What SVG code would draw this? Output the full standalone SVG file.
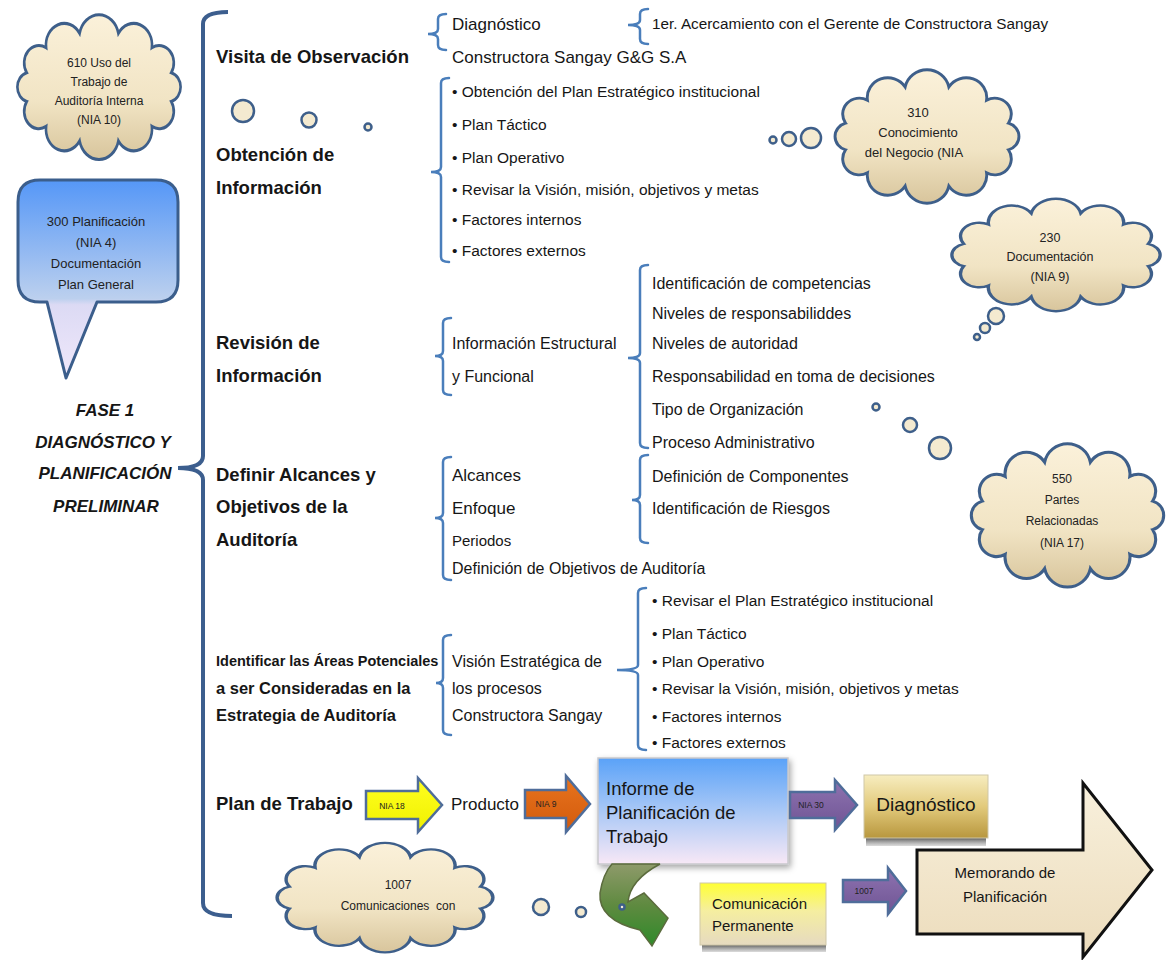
<svg xmlns="http://www.w3.org/2000/svg" width="1172" height="960" viewBox="0 0 1172 960">
<style>
text{font-family:"Liberation Sans",Arial,sans-serif;fill:#161616}
.h{font-size:18.5px;font-weight:bold}
.t{font-size:16px}
.s{font-size:15.5px}
.br{fill:none;stroke:#4a7ebb;stroke-width:2.5;stroke-linecap:round}
.bub{fill:#f4ead0;stroke:#3e5f8a;stroke-width:2.5}
.cloud{fill:url(#gCloud);stroke:#3e5f8a;stroke-width:3;vector-effect:non-scaling-stroke}
.ct{font-size:12px;text-anchor:middle;fill:#222}
.arr{stroke:#4f6d9a;stroke-width:2.5;stroke-linejoin:miter}
.al{font-size:8.5px;text-anchor:middle;fill:#222}
</style>
<defs>
<linearGradient id="gCloud" x1="0" y1="0" x2="0" y2="1"><stop offset="0" stop-color="#fbf1da"/><stop offset="0.6" stop-color="#f1e4c4"/><stop offset="1" stop-color="#d8c59c"/></linearGradient>
<linearGradient id="gCall" x1="0" y1="0" x2="0" y2="1"><stop offset="0" stop-color="#5597f7"/><stop offset="0.6" stop-color="#bcd0ee"/><stop offset="0.63" stop-color="#dcdaf4"/><stop offset="1" stop-color="#f0e8fb"/></linearGradient>
<linearGradient id="gInf" x1="0" y1="0" x2="0" y2="1"><stop offset="0" stop-color="#5aa2f8"/><stop offset="0.5" stop-color="#a9c8f6"/><stop offset="1" stop-color="#f8e8f6"/></linearGradient>
<linearGradient id="gDia" x1="0" y1="0" x2="0" y2="1"><stop offset="0" stop-color="#f7edc0"/><stop offset="0.5" stop-color="#e2ca7c"/><stop offset="1" stop-color="#b8973e"/></linearGradient>
<linearGradient id="gCom" x1="0" y1="0" x2="0" y2="1"><stop offset="0" stop-color="#ffff33"/><stop offset="0.45" stop-color="#f5eea0"/><stop offset="1" stop-color="#e6dac0"/></linearGradient>
<linearGradient id="gShd" x1="0" y1="0" x2="0" y2="1"><stop offset="0" stop-color="#333"/><stop offset="1" stop-color="#888" stop-opacity="0.3"/></linearGradient>
<linearGradient id="gYel" x1="0" y1="0" x2="0" y2="1"><stop offset="0" stop-color="#ffff20"/><stop offset="1" stop-color="#f0f000"/></linearGradient>
<linearGradient id="gOr" x1="0" y1="0" x2="0" y2="1"><stop offset="0" stop-color="#e8741e"/><stop offset="1" stop-color="#d25a0c"/></linearGradient>
<linearGradient id="gPur" x1="0" y1="0" x2="0" y2="1"><stop offset="0" stop-color="#8e73b0"/><stop offset="1" stop-color="#6f5494"/></linearGradient>
<linearGradient id="gMem" x1="0" y1="0" x2="0" y2="1"><stop offset="0" stop-color="#f8f0dc"/><stop offset="1" stop-color="#ecdcbc"/></linearGradient>
<linearGradient id="gGrn" x1="0" y1="0" x2="0" y2="1"><stop offset="0" stop-color="#8e9a6a"/><stop offset="0.5" stop-color="#5f8a40"/><stop offset="1" stop-color="#2f8a2a"/></linearGradient>
<filter id="sh" x="-10%" y="-10%" width="130%" height="140%"><feDropShadow dx="2" dy="3" stdDeviation="3" flood-color="#000" flood-opacity="0.35"/></filter>
<path id="cl" d="M16.9,56 A16.9,16.9 0 0 1 39.2,31.8 A21,21 0 0 1 77.7,17.8 A22.8,22.8 0 0 1 122.3,17.8 A21,21 0 0 1 160.8,31.8 A16.9,16.9 0 0 1 183.1,56 A14.5,14.5 0 0 1 183.1,84 A16.9,16.9 0 0 1 160.8,108.2 A21,21 0 0 1 122.3,122.2 A22.8,22.8 0 0 1 77.7,122.2 A21,21 0 0 1 39.2,108.2 A16.9,16.9 0 0 1 16.9,84 A14.5,14.5 0 0 1 16.9,56 Z"/>
</defs>

<g id="connectors">
<path d="M228,12 Q203,12 203,24 L203,456 Q203,468 178,468 Q203,468 203,480 L203,903 Q203,916 232,916" fill="none" stroke="#3c5e8e" stroke-width="4"/>
<path class="br" d="M446,14 Q438,14 438,19 L438,29 Q438,34 428,34 Q438,34 438,39 L438,45 Q438,50 446,50"/>
<path class="br" d="M648,9 Q640,9 640,14 L640,20 Q640,25 628,25 Q640,25 640,30 L640,39 Q640,44 648,44"/>
<path class="br" d="M449,78 Q441,78 441,83 L441,167 Q441,172 431,172 Q441,172 441,177 L441,257 Q441,262 449,262"/>
<path class="br" d="M451,318 Q443,318 443,323 L443,351 Q443,356 435,356 Q443,356 443,361 L443,390 Q443,395 451,395"/>
<path class="br" d="M648,265 Q640,265 640,270 L640,353 Q640,358 628,358 Q640,358 640,363 L640,443 Q640,448 648,448"/>
<path class="br" d="M451,457 Q443,457 443,462 L443,513 Q443,518 435,518 Q443,518 443,523 L443,575 Q443,580 451,580"/>
<path class="br" d="M648,455 Q640,455 640,460 L640,495 Q640,500 632,500 Q640,500 640,505 L640,538 Q640,543 648,543"/>
<path class="br" d="M451,635 Q443,635 443,640 L443,678 Q443,683 436,683 Q443,683 443,688 L443,730 Q443,735 451,735"/>
<path class="br" d="M646,588 Q638,588 638,593 L638,665 Q638,670 617,670 Q638,670 638,675 L638,745 Q638,750 646,750"/>
</g>

<g id="cloud610">
<use href="#cl" class="cloud" transform="translate(12,15) scale(0.87,1.03)"/>
<text class="ct" x="99" y="67">610 Uso del</text>
<text class="ct" x="99" y="86">Trabajo de</text>
<text class="ct" x="99" y="105">Auditoría Interna</text>
<text class="ct" x="99" y="124">(NIA 10)</text>
</g>

<g id="callout300">
<path d="M40,180 H156 Q178,180 178,202 V280 Q178,302 156,302 H97 L66,378 L47,302 H40 Q18,302 18,280 V202 Q18,180 40,180 Z" fill="url(#gCall)" stroke="#3b5e8c" stroke-width="3" stroke-linejoin="round"/>
<text class="ct" x="96" y="226" style="font-size:13px">300 Planificación</text>
<text class="ct" x="96" y="247" style="font-size:13px">(NIA 4)</text>
<text class="ct" x="96" y="268" style="font-size:13px">Documentación</text>
<text class="ct" x="96" y="289" style="font-size:13px">Plan General</text>
</g>

<g id="fase1" style="font-size:17px;font-weight:bold;font-style:italic" text-anchor="middle">
<text x="105" y="416">FASE 1</text>
<text x="103" y="448">DIAGNÓSTICO Y</text>
<text x="105" y="479">PLANIFICACIÓN</text>
<text x="106" y="512">PRELIMINAR</text>
</g>

<g id="visita">
<text class="h" x="216" y="63">Visita de Observación</text>
<text style="font-size:17px" x="452" y="30">Diagnóstico</text>
<text style="font-size:17px" x="452" y="63">Constructora Sangay G&amp;G S.A</text>
<text style="font-size:15.3px" x="652" y="29">1er. Acercamiento con el Gerente de Constructora Sangay</text>
</g>

<g id="obtencion">
<text class="h" x="216" y="161">Obtención de</text>
<text class="h" x="216" y="194">Información</text>
<text class="s" x="452" y="97">• Obtención del Plan Estratégico institucional</text>
<text class="s" x="452" y="130">• Plan Táctico</text>
<text class="s" x="452" y="163">• Plan Operativo</text>
<text class="s" x="452" y="195">• Revisar la Visión, misión, objetivos y metas</text>
<text class="s" x="452" y="225">• Factores internos</text>
<text class="s" x="452" y="256">• Factores externos</text>
<circle class="bub" cx="243" cy="111" r="11"/>
<circle class="bub" cx="309" cy="120" r="7.5"/>
<circle class="bub" cx="368" cy="127" r="3.5"/>
</g>

<g id="cloud310">
<circle class="bub" cx="773" cy="140" r="3.5"/>
<circle class="bub" cx="789" cy="139" r="7"/>
<circle class="bub" cx="811" cy="138" r="10"/>
<use href="#cl" class="cloud" transform="translate(829,70) scale(0.98,0.95)"/>
<text class="ct" x="918" y="117" style="font-size:13px">310</text>
<text class="ct" x="918" y="137" style="font-size:13px">Conocimiento</text>
<text class="ct" x="914" y="157" style="font-size:13px">del Negocio (NIA</text>
</g>

<g id="cloud230">
<circle class="bub" cx="977" cy="337" r="3"/>
<circle class="bub" cx="985" cy="328" r="5"/>
<circle class="bub" cx="996" cy="316" r="8"/>
<use href="#cl" class="cloud" transform="translate(945,199) scale(1.11,0.8)"/>
<text class="ct" x="1050" y="242" style="font-size:12.5px">230</text>
<text class="ct" x="1050" y="261" style="font-size:12.5px">Documentación</text>
<text class="ct" x="1050" y="281" style="font-size:12.5px">(NIA 9)</text>
</g>

<g id="revision">
<text class="h" x="216" y="349">Revisión de</text>
<text class="h" x="216" y="382">Información</text>
<text class="t" x="452" y="349">Información Estructural</text>
<text class="t" x="452" y="382">y Funcional</text>
<text class="t" x="652" y="289">Identificación de competencias</text>
<text class="t" x="652" y="319">Niveles de responsabiliddes</text>
<text class="t" x="652" y="349">Niveles de autoridad</text>
<text class="t" x="652" y="382">Responsabilidad en toma de decisiones</text>
<text class="t" x="652" y="415">Tipo de Organización</text>
<text class="t" x="652" y="448">Proceso Administrativo</text>
<circle class="bub" cx="876" cy="407" r="3.5"/>
<circle class="bub" cx="910" cy="425" r="7"/>
<circle class="bub" cx="940" cy="448" r="11"/>
</g>

<g id="cloud550">
<use href="#cl" class="cloud" transform="translate(965,444) scale(1.025,1.02)"/>
<text class="ct" x="1062" y="483">550</text>
<text class="ct" x="1062" y="504">Partes</text>
<text class="ct" x="1062" y="525">Relacionadas</text>
<text class="ct" x="1062" y="547">(NIA  17)</text>
</g>

<g id="definir">
<text class="h" x="216" y="481">Definir Alcances y</text>
<text class="h" x="216" y="513">Objetivos de la</text>
<text class="h" x="216" y="546">Auditoría</text>
<text style="font-size:17px" x="452" y="481">Alcances</text>
<text style="font-size:17px" x="452" y="514">Enfoque</text>
<text style="font-size:15px" x="452" y="546">Periodos</text>
<text class="t" x="452" y="574">Definición de Objetivos de Auditoría</text>
<text class="t" x="652" y="482">Definición de Componentes</text>
<text class="t" x="652" y="514">Identificación de Riesgos</text>
</g>

<g id="identificar">
<text x="216" y="666" style="font-size:14.5px;font-weight:bold">Identificar las Áreas Potenciales</text>
<text class="h" x="216" y="694" style="font-size:16.5px">a ser Consideradas en la</text>
<text class="h" x="216" y="721" style="font-size:16.5px">Estrategia de Auditoría</text>
<text class="t" x="452" y="667">Visión Estratégica de</text>
<text class="t" x="452" y="694">los procesos</text>
<text class="t" x="452" y="721">Constructora Sangay</text>
<text class="s" x="652" y="606">• Revisar el Plan Estratégico institucional</text>
<text class="s" x="652" y="639">• Plan Táctico</text>
<text class="s" x="652" y="667">• Plan Operativo</text>
<text class="s" x="652" y="694">• Revisar la Visión, misión, objetivos y metas</text>
<text class="s" x="652" y="722">• Factores internos</text>
<text class="s" x="652" y="748">• Factores externos</text>
</g>

<g id="plan">
<text class="h" x="216" y="810">Plan de Trabajo</text>
<path class="arr" d="M366,791 H418 V778 L442,805 L418,832 V819 H366 Z" fill="url(#gYel)"/>
<text class="al" x="392" y="809">NIA 18</text>
<text style="font-size:17px" x="451" y="810">Producto</text>
<path class="arr" d="M525,790 H566 V776 L590,804 L566,832 V818 H525 Z" fill="url(#gOr)"/>
<text class="al" x="546" y="807">NIA 9</text>
</g>

<g id="informe">
<rect x="598" y="758" width="190" height="106" fill="url(#gInf)" stroke="#c8c8cc" stroke-width="1.5" filter="url(#sh)"/>
<text x="606" y="795" style="font-size:18.5px">Informe de</text>
<text x="606" y="819" style="font-size:18.5px">Planificación de</text>
<text x="606" y="843" style="font-size:18.5px">Trabajo</text>
</g>

<g id="nia30">
<path class="arr" d="M790,792 H835 V780 L857,805 L835,830 V818 H790 Z" fill="url(#gPur)"/>
<text class="al" x="811" y="808">NIA 30</text>
</g>

<g id="diagnostico">
<rect x="866" y="836" width="120" height="10" fill="url(#gShd)"/>
<rect x="864" y="775" width="124" height="63" fill="url(#gDia)" stroke="#cfc7a8" stroke-width="1"/>
<text x="926" y="811" text-anchor="middle" style="font-size:19px">Diagnóstico</text>
</g>

<g id="cloud1007">
<use href="#cl" class="cloud" transform="translate(270,843) scale(1.15,0.78)"/>
<text class="ct" x="398" y="889">1007</text>
<text class="ct" x="398" y="910" xml:space="preserve">Comunicaciones  con</text>
<circle class="bub" cx="541" cy="907" r="8"/>
<circle class="bub" cx="581" cy="912" r="5"/>
</g>

<g id="curved">
<path d="M612,864 L660,864 Q630,880 628,902 L644,893 L668,918 L652,946 L640,930 Q598,920 600,893 Q603,874 612,864 Z" fill="url(#gGrn)" stroke="#5b6b3d" stroke-width="1.5"/>
<circle class="bub" cx="622" cy="907" r="2.5"/>
</g>

<g id="comunicacion">
<rect x="702" y="943" width="124" height="9" fill="url(#gShd)"/>
<rect x="700" y="883" width="126" height="62" fill="url(#gCom)" stroke="#cfc7a8" stroke-width="1"/>
<text x="712" y="909" style="font-size:15px">Comunicación</text>
<text x="712" y="931" style="font-size:15px">Permanente</text>
</g>

<g id="a1007">
<path class="arr" d="M843,880 H888 V868 L906,891 L888,914 V902 H843 Z" fill="url(#gPur)"/>
<text class="al" x="864" y="894">1007</text>
</g>

<g id="memorando">
<path d="M917,850 H1083 V783 L1152,870 L1083,957 V934 H917 Z" fill="url(#gMem)" stroke="#111" stroke-width="3" stroke-linejoin="miter"/>
<text x="1005" y="878" text-anchor="middle" style="font-size:15px">Memorando de</text>
<text x="1005" y="902" text-anchor="middle" style="font-size:15px">Planificación</text>
</g>
</svg>
